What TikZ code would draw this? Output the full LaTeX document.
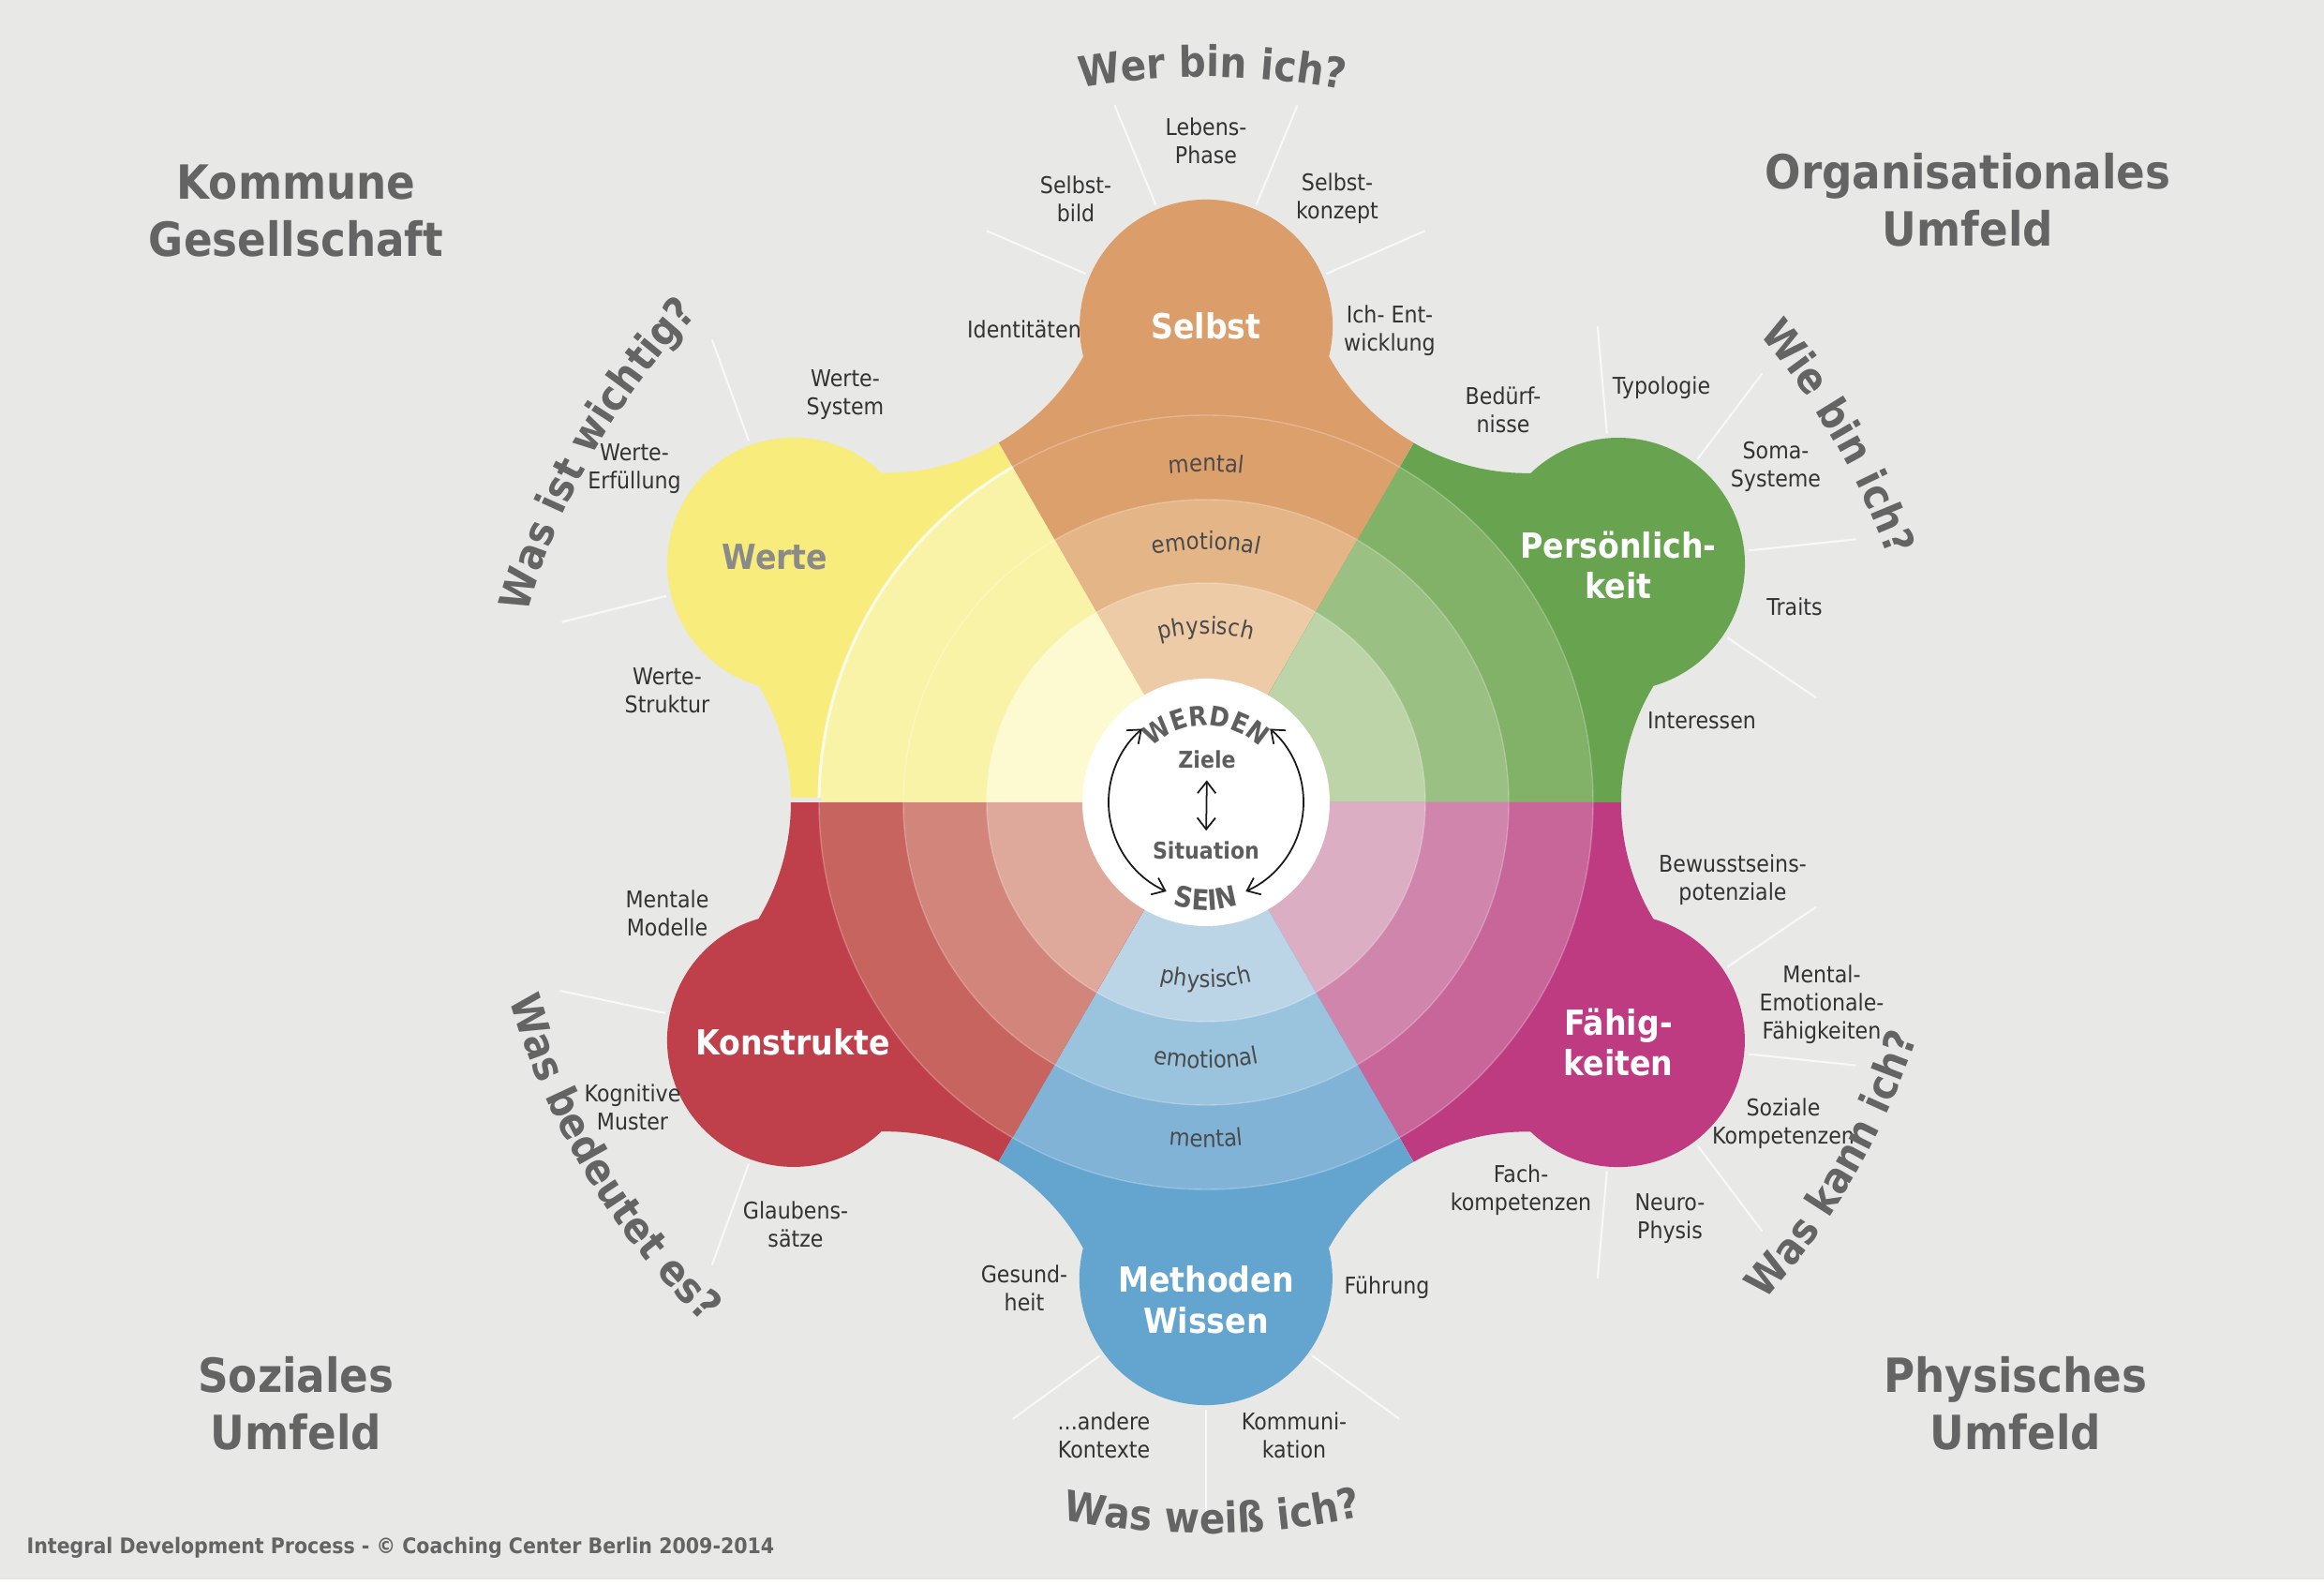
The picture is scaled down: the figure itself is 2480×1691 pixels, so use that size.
\documentclass[tikz,border=0pt]{standalone}
\usepackage{fontspec}
\setmainfont{DejaVu Sans}[FakeStretch=0.9]
\usetikzlibrary{decorations.text,arrows.meta}
\definecolor{bgc}{HTML}{E8E8E6}
\definecolor{lblc}{HTML}{333333}
\definecolor{headc}{HTML}{646464}
\definecolor{ringc}{HTML}{4A4A4A}
\definecolor{centc}{HTML}{5E5E5E}
\definecolor{spokec}{HTML}{F8F8F8}
\definecolor{wertec}{HTML}{8A8A8A}
\definecolor{oO}{HTML}{DB9D69}\definecolor{oM}{HTML}{DCA06D}\definecolor{oE}{HTML}{E4B687}\definecolor{oP}{HTML}{EDCBA6}
\definecolor{gO}{HTML}{68A34F}\definecolor{gM}{HTML}{82B168}\definecolor{gE}{HTML}{9BC083}\definecolor{gP}{HTML}{BCD4A7}
\definecolor{pO}{HTML}{BE3B82}\definecolor{pM}{HTML}{C86699}\definecolor{pE}{HTML}{D085AC}\definecolor{pP}{HTML}{DBAEC4}
\definecolor{bO}{HTML}{64A5D0}\definecolor{bM}{HTML}{81B3D7}\definecolor{bE}{HTML}{9AC3DD}\definecolor{bP}{HTML}{BBD5E7}
\definecolor{rO}{HTML}{BF404A}\definecolor{rM}{HTML}{C7645F}\definecolor{rE}{HTML}{D2857A}\definecolor{rP}{HTML}{DEA99B}
\definecolor{yO}{HTML}{F7EC7C}\definecolor{yM}{HTML}{F9F3A8}\definecolor{yE}{HTML}{F9F3A8}\definecolor{yP}{HTML}{FDF9D1}
\newcommand\qfont{\fontsize{12.8}{15}\selectfont\bfseries}
\newcommand\rfont{\fontsize{7.2}{9}\selectfont}
\newcommand\cfont{\fontsize{8.2}{10}\selectfont\bfseries}
\newcommand\sfont{\fontsize{8.6}{10}\selectfont\bfseries}
\newcommand\wsector[5]{%
  \fill[#2] (0,0) -- ({#1-30}:443)
    arc[start angle={#1+150}, end angle={#1+118.97}, radius=241]
    arc[start angle={#1-103.9}, end angle={#1+103.9}, radius=135]
    arc[start angle={#1-118.97}, end angle={#1-150}, radius=241] -- cycle;
  \fill[#3] (0,0) -- ({#1-30}:413) arc[start angle={#1-30}, end angle={#1+30}, radius=413] -- cycle;
  \fill[#4] (0,0) -- ({#1-30}:323) arc[start angle={#1-30}, end angle={#1+30}, radius=323] -- cycle;
  \fill[#5] (0,0) -- ({#1-30}:234) arc[start angle={#1-30}, end angle={#1+30}, radius=234] -- cycle;
}
\tikzset{
  lbl/.style={font=\fontsize{7}{8.5}\selectfont, text=lblc, align=center, inner sep=0pt},
  lobe/.style={font=\fontsize{10.5}{12.5}\selectfont\bfseries, text=white, align=center, inner sep=0pt},
  head/.style={font=\fontsize{14.3}{17.3}\selectfont\bfseries, text=headc, align=center, inner sep=0pt},
  ctext/.style={font=\fontsize{7}{8.5}\selectfont\bfseries, text=centc, inner sep=0pt},
  spoke/.style={draw=spokec, line width=0.6pt},
  qarc/.style={decorate, decoration={text along path, text align=center, text color=headc, text={|\qfont|#1}}},
  rarc/.style={decorate, decoration={text along path, text align=center, text color=ringc, text={|\rfont|#1}}},
  carc/.style={decorate, decoration={text along path, text align=center, text color=centc, text={|\cfont|#1}}},
  sarc/.style={decorate, decoration={text along path, text align=center, text color=centc, text={|\sfont|#1}}},
  carrow/.style={draw=black!90, line width=0.5pt, {Straight Barb[length=3.5pt,width=5.5pt]}-{Straight Barb[length=3.5pt,width=5.5pt]}}
}
\begin{document}
\begin{tikzpicture}[x=0.1mm,y=0.1mm]
\useasboundingbox (-1287,-835) rectangle (1193,856);
\fill[bgc] (-1287,-835) rectangle (1193,856);
\fill[white] (-1287,-835) rectangle (1193,-829);

% sectors
\wsector{90}{oO}{oM}{oE}{oP}
\wsector{30}{gO}{gM}{gE}{gP}
\wsector{-30}{pO}{pM}{pE}{pP}
\wsector{-90}{bO}{bM}{bE}{bP}
\wsector{-150}{rO}{rM}{rE}{rP}
\wsector{150}{yO}{yM}{yE}{yP}
\foreach \r in {234,323,413} \draw[white, opacity=.25, line width=.4pt] (0,0) circle[radius=\r];
\draw[white, opacity=.7, line width=.9pt] (120:413) arc[start angle=120, end angle=180, radius=413];
\draw[bgc, line width=1.2pt] (-446,2.5) -- (-410,2.5);
\fill[white] (0,0) circle[radius=132];

% lobe centres
\coordinate (cS) at (0,508);
\coordinate (cP) at (440,254);
\coordinate (cF) at (440,-254);
\coordinate (cM) at (0,-508);
\coordinate (cK) at (-440,-254);
\coordinate (cW) at (-440,254);

% spokes
\foreach \a in {23.5,67.5,112.5,156.5} \draw[spoke, shift={(cS)}] (\a:140) -- (\a:255);
\foreach \a in {95,53,6,-34} \draw[spoke, shift={(cP)}] (\a:140) -- (\a:255);
\foreach \a in {-95,-53,-6,34} \draw[spoke, shift={(cF)}] (\a:140) -- (\a:255);
\foreach \a in {216,270,324} \draw[spoke, shift={(cM)}] (\a:140) -- (\a:255);
\foreach \a in {168,250} \draw[spoke, shift={(cK)}] (\a:140) -- (\a:255);
\foreach \a in {110,194} \draw[spoke, shift={(cW)}] (\a:140) -- (\a:255);

% ring texts
\path[rarc={mental}] (130:353) arc[start angle=130, end angle=50, radius=353];
\path[rarc={emotional}] (130:270) arc[start angle=130, end angle=50, radius=270];
\path[rarc={physisch}] (130:180) arc[start angle=130, end angle=50, radius=180];
\path[rarc={physisch}] (-130:198) arc[start angle=-130, end angle=-50, radius=198];
\path[rarc={emotional}] (-130:284) arc[start angle=-130, end angle=-50, radius=284];
\path[rarc={mental}] (-130:368) arc[start angle=-130, end angle=-50, radius=368];

% centre
\path[carc={WERDEN}] (160:82) arc[start angle=160, end angle=20, radius=82];
\path[sarc={SEIN}] (-160:115) arc[start angle=-160, end angle=-20, radius=115];
\node[ctext] (ziele) at (1,46) {Ziele};
\node[ctext] (situation) at (0,-51) {Situation};
\draw[carrow, shorten <=3.5pt, shorten >=3pt] (ziele.south) -- (situation.north);
\draw[carrow] (131:104) arc[start angle=131, end angle=246, radius=104];
\draw[carrow] (49:104) arc[start angle=49, end angle=-66, radius=104];

% lobe labels
\node[lobe] (selbst) at (0,508) {Selbst};
\node[lobe] (pers) at (440,253) {Persönlich-\\keit};
\node[lobe] (faehig) at (440,-256) {Fähig-\\keiten};
\node[lobe] (method) at (0,-531) {Methoden\\Wissen};
\node[lobe] (konstr) at (-441,-256) {Konstrukte};
\node[lobe, text=wertec] (werte) at (-460,262) {Werte};

% small labels
\node[lbl] (l1) at (0,706) {Lebens-\\Phase};
\node[lbl] (l2) at (-139,644) {Selbst-\\bild};
\node[lbl] (l3) at (140,644) {Selbst-\\konzept};
\node[lbl] (l4) at (-194,505) {Identitäten};
\node[lbl] (l5) at (196,503) {Ich- Ent-\\wicklung};
\node[lbl] (l6) at (317,419) {Bedürf-\\nisse};
\node[lbl] (l7) at (486,442) {Typologie};
\node[lbl] (l8) at (608,358) {Soma-\\Systeme};
\node[lbl] (l9) at (628,209) {Traits};
\node[lbl] (l10) at (529,87) {Interessen};
\node[lbl] (l11) at (562,-83) {Bewusstseins-\\potenziale};
\node[lbl] (l12) at (657,-216) {Mental-\\Emotionale-\\Fähigkeiten};
\node[lbl] (l13) at (616,-343) {Soziale\\Kompetenzen};
\node[lbl] (l14) at (495,-444) {Neuro-\\Physis};
\node[lbl] (l15) at (336,-414) {Fach-\\kompetenzen};
\node[lbl] (l16) at (193,-518) {Führung};
\node[lbl] (l17) at (94,-675) {Kommuni-\\kation};
\node[lbl] (l18) at (-109,-675) {...andere\\Kontexte};
\node[lbl] (l19) at (-194,-518) {Gesund-\\heit};
\node[lbl] (l20) at (-438,-450) {Glaubens-\\sätze};
\node[lbl] (l21) at (-612,-325) {Kognitive\\Muster};
\node[lbl] (l22) at (-575,-118) {Mentale\\Modelle};
\node[lbl] (l23) at (-575,119) {Werte-\\Struktur};
\node[lbl] (l24) at (-610,356) {Werte-\\Erfüllung};
\node[lbl] (l25) at (-385,435) {Werte-\\System};

% questions
\path[qarc={Wer bin ich?}] (114.5:774) arc[start angle=114.5, end angle=64.5, radius=774];
\path[qarc={Wie bin ich?}] (55:773) arc[start angle=55, end angle=5, radius=773];
\path[qarc={Was ist wichtig?}] (182:752) arc[start angle=182, end angle=118.6, radius=752];
\path[qarc={Was kann ich?}] (-58:799) arc[start angle=-58, end angle=-2, radius=799];
\path[qarc={Was weiß ich?}] (-115:780) arc[start angle=-115, end angle=-64, radius=780];
\path[qarc={Was bedeutet es?}] (178:772) arc[start angle=178, end angle=243.8, radius=772];

% headings
\node[head] (h1) at (-971,631) {Kommune\\Gesellschaft};
\node[head] (h2) at (813,643) {Organisationales\\Umfeld};
\node[head] (h3) at (-971,-641) {Soziales\\Umfeld};
\node[head] (h4) at (864,-641) {Physisches\\Umfeld};

\node[anchor=west, inner sep=0pt, font=\fontsize{6.5}{7.5}\selectfont\bfseries, text=headc] (foot) at (-1259,-795) {Integral Development Process - © Coaching Center Berlin 2009-2014};
\end{tikzpicture}
\end{document}
